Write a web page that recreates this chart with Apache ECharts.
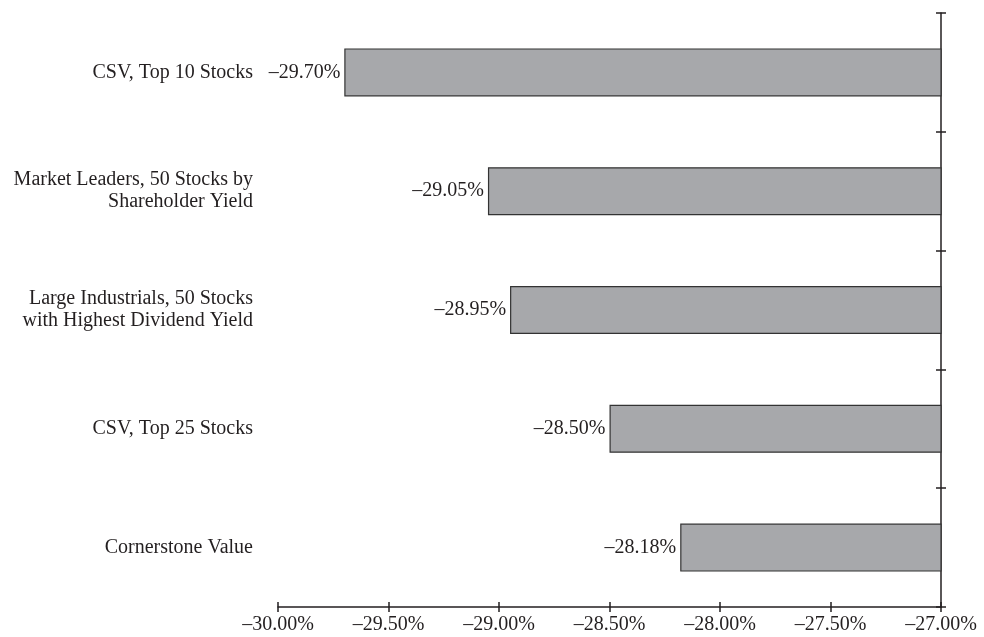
<!DOCTYPE html>
<html>
<head>
<meta charset="utf-8">
<script src="https://cdn.jsdelivr.net/npm/echarts@6/dist/echarts.min.js"></script>
<style>html,body{margin:0;padding:0;background:#fff}#c{width:984px;height:637px}</style>
</head>
<body>
<div id="c"></div>
<script>
const categories = [
  "CSV, Top 10 Stocks",
  "Market Leaders, 50 Stocks by\nShareholder Yield",
  "Large Industrials, 50 Stocks\nwith Highest Dividend Yield",
  "CSV, Top 25 Stocks",
  "Cornerstone Value"
];
const values = [-29.70, -29.05, -28.95, -28.50, -28.18];
const xMin = -30, xMax = -27, xStep = 0.5;

const fmt = v => (v < 0 ? "\u2013" : "") + Math.abs(v).toFixed(2) + "%";
const font = "'Liberation Serif', 'DejaVu Serif', serif";
const txt = { fontFamily: font, fontSize: 20, color: "#231f20" };
const lineC = "#231f20";

const chart = echarts.init(document.getElementById('c'), null, { renderer: 'canvas' });
chart.setOption({
  animation: false,
  backgroundColor: '#fff',
  grid: { left: 278, right: 43, top: 13, bottom: 30, containLabel: false },
  xAxis: [
    {
      type: 'value', min: xMin, max: xMax, interval: xStep, position: 'bottom',
      axisLine: { show: true, lineStyle: { color: lineC, width: 1.5 } },
      axisTick: { show: true, inside: true, length: 5, lineStyle: { color: lineC, width: 1.5 } },
      splitLine: { show: false },
      axisLabel: Object.assign({ margin: 8, formatter: fmt }, txt)
    },
    {
      type: 'value', min: xMin, max: xMax, interval: xStep, position: 'bottom',
      axisLine: { show: false },
      axisTick: { show: true, inside: false, length: 5, lineStyle: { color: lineC, width: 1.5 } },
      splitLine: { show: false },
      axisLabel: { show: false }
    }
  ],
  yAxis: [
    {
      type: 'category', data: categories, inverse: true, position: 'right',
      axisLine: { show: true, lineStyle: { color: lineC, width: 1.5 } },
      axisTick: { show: true, inside: true, length: 5, lineStyle: { color: lineC, width: 1.5 } },
      axisLabel: { show: false }
    },
    {
      type: 'category', data: categories, inverse: true, position: 'right',
      axisLine: { show: false },
      axisTick: { show: true, inside: false, length: 5, lineStyle: { color: lineC, width: 1.5 } },
      axisLabel: { show: false }
    },
    {
      type: 'category', data: categories, inverse: true, position: 'left',
      axisLine: { show: false },
      axisTick: { show: false },
      axisLabel: Object.assign({ margin: 25, align: 'right', lineHeight: 22 }, txt)
    }
  ],
  series: [{
    type: 'bar',
    xAxisIndex: 0, yAxisIndex: 0,
    data: values,
    barWidth: 48,
    itemStyle: { color: '#a7a8ab', borderColor: '#333333', borderWidth: 1.2 },
    label: Object.assign({ show: true, position: 'left', distance: 4, formatter: p => fmt(p.value) }, txt)
  }]
});
</script>
</body>
</html>
